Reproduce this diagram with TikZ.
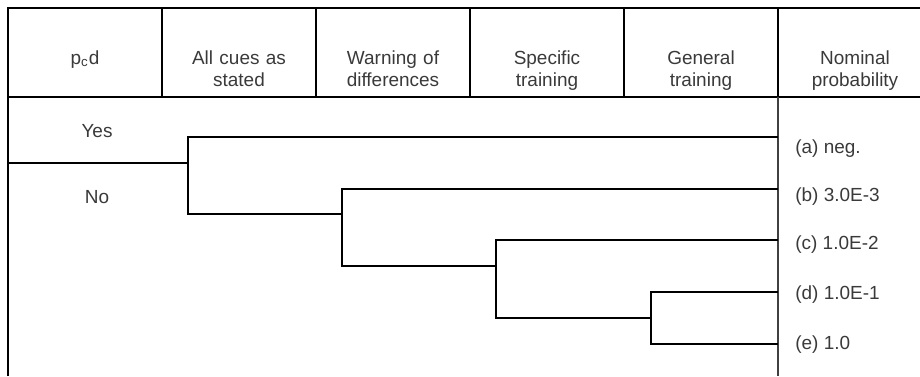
\documentclass[tikz,border=0pt]{standalone}
\usepackage{fontspec}
\setmainfont{Liberation Sans}
\usepackage{xcolor}
\usetikzlibrary{positioning}
\definecolor{txtgray}{HTML}{3A3A3A}
\tikzset{
  grid/.style  = {line width=1.3pt, black},
  colline/.style = {line width=1pt, black!75},
  tree/.style  = {line width=1.3pt, black, line join=miter},
  head/.style  = {text width=2.9cm, align=center, anchor=north, inner sep=0pt,
                  text=txtgray, font=\fontsize{10.8}{12.6}\selectfont},
  answer/.style = {anchor=base, inner sep=0pt, text=txtgray,
                   font=\fontsize{10.8}{12.6}\selectfont},
  leaf/.style  = {anchor=base west, inner sep=0pt, text=txtgray,
                  font=\fontsize{10.8}{12.6}\selectfont},
}
\begin{document}
\begin{tikzpicture}[x=0.02cm, y=-0.02cm]
    \useasboundingbox (0,0) rectangle (920,376);

    %% Frame and header grid
    \draw[grid] (8,376) -- (8,8) -- (920,8);
    \draw[grid] (8,97) -- (920,97);
    \foreach \x in {162,316,470,624,778}
      \draw[grid] (\x,8) -- (\x,97);
    \draw[colline] (778,97) -- (778,376);

    %% Header cells
    \node[head] (pcd)  at (85,50)  {p\textsubscript{c}d};
    \node[head] (cues) at (239,50) {All cues as\\stated};
    \node[head] (warn) at (393,50) {Warning of\\differences};
    \node[head] (spec) at (547,50) {Specific\\training};
    \node[head] (gen)  at (701,50) {General\\training};
    \node[head] (nom)  at (855,50) {Nominal\\probability};

    %% Yes / No
    \node[answer] (yes) at (97,137) {Yes};
    \node[answer] (no)  at (97,203) {No};
    \coordinate (row) at (8,163);

    %% Junctions and leaves
    \coordinate (j1) at (188,163);
    \coordinate (j2) at (342,214);
    \coordinate (j3) at (496,266);
    \coordinate (j4) at (651,318);
    \coordinate (la) at (778,137);
    \coordinate (lb) at (778,189);
    \coordinate (lc) at (778,240);
    \coordinate (ld) at (778,292);
    \coordinate (le) at (778,344);

    \draw[tree] (row) -- (j1);
    \draw[tree] (la) -| (j1) |- (j2);
    \draw[tree] (lb) -| (j2) |- (j3);
    \draw[tree] (lc) -| (j3) |- (j4);
    \draw[tree] (ld) -| (j4) |- (le);

    %% Nominal probabilities
    \node[leaf] (pa) at (795,153) {(a) neg.};
    \node[leaf] (pb) at (795,201) {(b) 3.0E-3};
    \node[leaf] (pc) at (795,249) {(c) 1.0E-2};
    \node[leaf] (pd) at (795,299) {(d) 1.0E-1};
    \node[leaf] (pe) at (795,349) {(e) 1.0};

\end{tikzpicture}
\end{document}
